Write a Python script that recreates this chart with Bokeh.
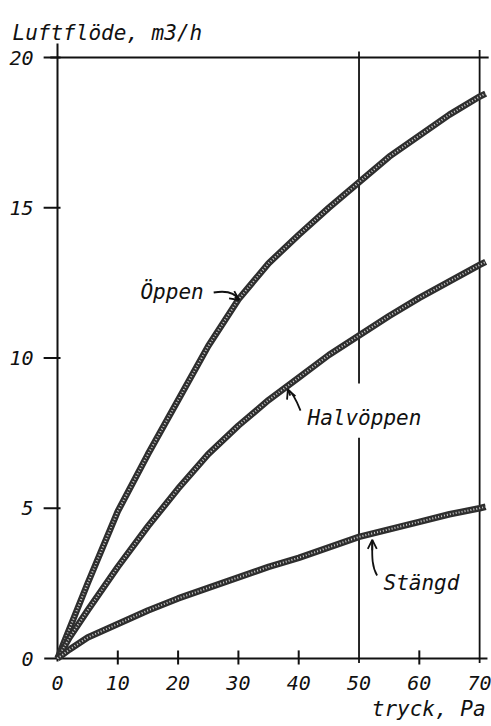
from bokeh.plotting import figure
from bokeh.models import Range1d, Arrow, OpenHead
from bokeh.core.properties import value
from bokeh.embed import file_html
from bokeh.resources import INLINE

# ---- data ----
pressure = [0, 2, 5, 10, 15, 20, 25, 30, 35, 40, 45, 50, 55, 60, 65, 70, 71]
oppen = [0, 1.0, 2.5, 4.9, 6.8, 8.6, 10.4, 11.95, 13.15, 14.1, 15.0, 15.85, 16.7, 17.4, 18.1, 18.7, 18.8]
halvoppen = [0, 0.7, 1.6, 3.05, 4.4, 5.65, 6.8, 7.75, 8.6, 9.35, 10.1, 10.75, 11.4, 12.0, 12.55, 13.1, 13.2]
stangd = [0, 0.3, 0.7, 1.15, 1.6, 2.0, 2.35, 2.7, 3.05, 3.35, 3.7, 4.05, 4.3, 4.55, 4.8, 5.0, 5.05]

x_ticks = [0, 10, 20, 30, 40, 50, 60, 70]
y_ticks = [0, 5, 10, 15, 20]
x_tick_labels = [str(v) for v in x_ticks]
y_tick_labels = [str(v) for v in y_ticks]
guide_lines = [50, 70]
x_title = "tryck, Pa"
y_title = "Luftflöde, m3/h"
curve_names = ["Öppen", "Halvöppen", "Stängd"]

FONT = value("DejaVu Sans Mono")
INK = "#111111"

p = figure(width=491, height=724,
           x_range=Range1d(-9.453, 71.97), y_range=Range1d(-2.196, 21.897),
           x_axis_type=None, y_axis_type=None,
           toolbar_location=None, output_backend="svg", min_border=0)
p.outline_line_color = None
p.background_fill_color = "white"

# ---- frame / axes drawn by hand ----
p.segment(x0=[-2.2], y0=[0], x1=[71.3], y1=[0], line_color=INK, line_width=2)
p.segment(x0=[0], y0=[-0.1], x1=[0], y1=[20.47], line_color=INK, line_width=2)
p.segment(x0=[-1.2], y0=[20], x1=[71.5], y1=[20], line_color=INK, line_width=2)
# vertical guides at 50 (with a gap for the label) and 70
p.segment(x0=[guide_lines[0], guide_lines[0], guide_lines[1]],
          y0=[-0.15, 9.15, -0.15],
          x1=[guide_lines[0], guide_lines[0], guide_lines[1]],
          y1=[7.35, 20.2, 20.25], line_color=INK, line_width=1.8)

# y ticks (crossing the axis)
yt = [v for v in y_ticks if v > 0]
p.segment(x0=[-2.3] * len(yt), y0=yt, x1=[0.5] * len(yt), y1=yt, line_color=INK, line_width=2)
# x ticks
xt = [v for v in x_ticks if v not in (0, 50, 70)]
p.segment(x0=xt, y0=[-0.2] * len(xt), x1=xt, y1=[0.27] * len(xt), line_color=INK, line_width=2)

# tick labels
p.text(x=[-3.98] * len(y_ticks), y=y_ticks, text=y_tick_labels,
       text_font=FONT, text_font_style="italic", text_font_size="20px",
       text_align="right", text_baseline="middle", text_color=INK)
p.text(x=x_ticks, y=[-0.8] * len(x_ticks), text=x_tick_labels,
       text_font=FONT, text_font_style="italic", text_font_size="20px",
       text_align="center", text_baseline="middle", text_color=INK)

# axis titles
p.text(x=[-7.46], y=[20.83], text=[y_title], text_font=FONT, text_font_style="italic",
       text_font_size="21px", text_align="left", text_baseline="alphabetic", text_color=INK)
p.text(x=[70.98], y=[-1.68], text=[x_title], text_font=FONT, text_font_style="italic",
       text_font_size="21px", text_align="right", text_baseline="alphabetic", text_color=INK)

# ---- curves (rope-like thick lines) ----
for series in (oppen, halvoppen, stangd):
    p.line(pressure, series, line_color="#2e2e2e", line_width=6.5, line_join="round")
    p.line(pressure, series, line_color="#cfcfcf", line_width=2, line_dash="1 2", line_join="round")

# ---- curve labels with arrows ----
p.text(x=[13.76, 41.46, 54.06], y=[12.18, 7.99, 2.50], text=curve_names,
       text_font=FONT, text_font_style="italic", text_font_size="21px",
       text_align="left", text_baseline="alphabetic", text_color=INK)

p.bezier(x0=[25.9, 40.3, 53.0], y0=[12.18, 8.25, 2.76],
         x1=[30.1, 38.2, 52.2], y1=[11.93, 8.95, 3.95],
         cx0=[28.0, 39.4, 52.0], cy0=[12.25, 8.7, 3.1],
         cx1=[29.4, 38.6, 52.2], cy1=[12.2, 8.9, 3.5],
         line_color=INK, line_width=1.8)
for xs, ys, xe, ye in [(29.4, 12.03, 30.1, 11.93), (38.6, 8.75, 38.2, 8.95), (52.2, 3.6, 52.2, 3.95)]:
    p.add_layout(Arrow(end=OpenHead(size=9, line_width=1.8, line_color=INK),
                       x_start=xs, y_start=ys, x_end=xe, y_end=ye,
                       line_color=INK, line_width=1.8))

open("out.html", "w").write(file_html(p, INLINE))
